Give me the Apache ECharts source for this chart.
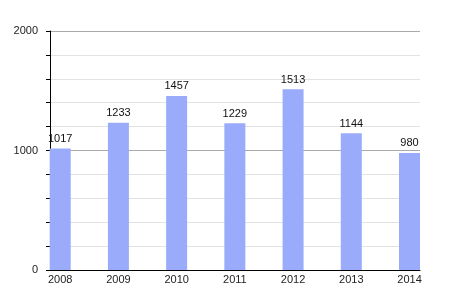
<!DOCTYPE html>
<html><head><meta charset="utf-8">
<script src="https://cdn.jsdelivr.net/npm/echarts@6/dist/echarts.min.js"></script>
<style>html,body{margin:0;padding:0;background:#fff}#c{width:450px;height:300px}</style>
</head><body><div id="c"></div>
<script>
var categories = ['2008','2009','2010','2011','2012','2013','2014'];
var values = [1017, 1233, 1457, 1229, 1513, 1144, 980];
var yTickLabels = [0, 1000, 2000];

var chart = echarts.init(document.getElementById('c'), null, {renderer:'canvas'});
var idx = categories.map(function(_, i){ return i; });
chart.setOption({
  animation: false,
  grid: {left: 50, right: 30, top: 31, bottom: 30, containLabel: false},
  xAxis: {
    type: 'value', min: -0.175, max: 6.18,
    axisLine: {show: true, onZero: false, lineStyle: {color: '#000', width: 1}},
    axisTick: {show: false},
    splitLine: {show: false},
    axisLabel: {
      customValues: idx,
      formatter: function(v){ return categories[Math.round(v)]; },
      color: '#222', fontSize: 11, fontFamily: 'Liberation Sans, Arial, sans-serif', margin: 4
    }
  },
  yAxis: {
    type: 'value', min: 0, max: 2000, interval: 200,
    axisLine: {show: true, onZero: false, lineStyle: {color: '#000', width: 1}},
    axisTick: {show: true, length: 4, inside: false, lineStyle: {color: '#000'}},
    axisLabel: {
      formatter: function(v){ return yTickLabels.indexOf(v) >= 0 ? String(v) : ''; },
      color: '#222', fontSize: 11, fontFamily: 'Liberation Sans, Arial, sans-serif', margin: 12
    },
    splitLine: {show: true, lineStyle: {color: ['#aaaaaa','#e2e2e2','#e2e2e2','#e2e2e2','#e2e2e2'], width: 1}}
  },
  series: [{
    type: 'bar',
    data: values.map(function(v, i){ return [i, v]; }),
    barWidth: 21,
    itemStyle: {color: '#9aabfb'},
    label: {show: true, position: 'top', distance: 4, color: '#111', fontSize: 11,
      fontFamily: 'Liberation Sans, Arial, sans-serif',
      formatter: function(p){ return String(p.value[1]); }}
  }]
});
</script></body></html>
